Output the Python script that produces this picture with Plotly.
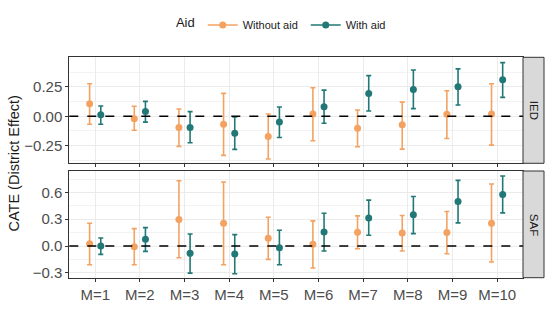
import plotly.graph_objects as go

categories = ["M=1", "M=2", "M=3", "M=4", "M=5", "M=6", "M=7", "M=8", "M=9", "M=10"]

# IED panel
ied_without = [0.107, -0.020, -0.096, -0.068, -0.172, 0.020, -0.102, -0.073, 0.017, 0.020]
ied_without_hi = [0.277, 0.085, 0.062, 0.195, 0.020, 0.243, 0.054, 0.121, 0.218, 0.277]
ied_without_lo = [-0.068, -0.119, -0.257, -0.333, -0.364, -0.209, -0.260, -0.280, -0.189, -0.246]
ied_with = [0.014, 0.040, -0.096, -0.144, -0.048, 0.082, 0.195, 0.229, 0.251, 0.311]
ied_with_hi = [0.088, 0.127, 0.040, -0.006, 0.079, 0.223, 0.347, 0.395, 0.404, 0.458]
ied_with_lo = [-0.068, -0.050, -0.226, -0.282, -0.181, -0.059, 0.045, 0.065, 0.096, 0.161]

# SAF panel
saf_without = [0.026, -0.008, 0.296, 0.255, 0.086, 0.019, 0.154, 0.146, 0.150, 0.255]
saf_without_hi = [0.255, 0.195, 0.731, 0.716, 0.322, 0.281, 0.337, 0.341, 0.386, 0.694]
saf_without_lo = [-0.210, -0.210, -0.131, -0.210, -0.150, -0.247, -0.030, -0.056, -0.086, -0.180]
saf_with = [0.000, 0.075, -0.082, -0.090, -0.019, 0.157, 0.315, 0.349, 0.499, 0.577]
saf_with_hi = [0.090, 0.206, 0.135, 0.127, 0.176, 0.367, 0.514, 0.555, 0.735, 0.784]
saf_with_lo = [-0.094, -0.060, -0.304, -0.311, -0.210, -0.056, 0.120, 0.139, 0.259, 0.371]

ied_ticks = [-0.25, 0.0, 0.25]
saf_ticks = [-0.3, 0.0, 0.3, 0.6]

ORANGE = "#F4A261"
TEAL = "#217876"
DODGE = 0.125
FONT = "Liberation Sans, Arial, sans-serif"

pos = list(range(1, len(categories) + 1))

fig = go.Figure()


def add_series(est, hi, lo, color, offset, xa, ya):
    fig.add_trace(go.Scatter(
        x=[p + offset for p in pos], y=est, mode="markers",
        marker=dict(color=color, size=7),
        error_y=dict(type="data", symmetric=False,
                     array=[h - e for h, e in zip(hi, est)],
                     arrayminus=[e - l for e, l in zip(est, lo)],
                     color=color, thickness=1.6, width=2.5),
        xaxis=xa, yaxis=ya, showlegend=False, hoverinfo="skip"))


add_series(ied_without, ied_without_hi, ied_without_lo, ORANGE, -DODGE, "x", "y")
add_series(ied_with, ied_with_hi, ied_with_lo, TEAL, DODGE, "x", "y")
add_series(saf_without, saf_without_hi, saf_without_lo, ORANGE, -DODGE, "x2", "y2")
add_series(saf_with, saf_with_hi, saf_with_lo, TEAL, DODGE, "x2", "y2")

# legend-only traces
for name, color in [("Without aid", ORANGE), ("With aid", TEAL)]:
    fig.add_trace(go.Scatter(x=[None], y=[None], mode="lines+markers", name=name,
                             line=dict(color=color, width=1.6),
                             marker=dict(color=color, size=7)))

XD = [69.3 / 553, 523 / 553]
TOP_D = [1 - 163.3 / 310, 1 - 57.3 / 310]
BOT_D = [1 - 277.7 / 310, 1 - 171 / 310]

grid = "#EBEBEB"
border = "#333333"
tickfont = dict(family=FONT, size=15, color="#4D4D4D")

common_x = dict(range=[0.42, 10.58], tickvals=pos, ticktext=categories, tickmode="array",
                showgrid=True, gridcolor=grid, gridwidth=1,
                showline=True, mirror=True, linecolor=border, linewidth=1,
                ticks="outside", ticklen=3, tickcolor=border, zeroline=False,
                domain=XD, tickfont=tickfont, automargin=False)

common_y = dict(showgrid=True, gridcolor=grid, zeroline=False, tickmode="array",
                showline=True, mirror=True, linecolor=border, linewidth=1,
                ticks="outside", ticklen=3, tickcolor=border, tickfont=tickfont,
                automargin=False)

fig.update_layout(
    width=553, height=310,
    margin=dict(l=0, r=0, t=0, b=0, autoexpand=False),
    paper_bgcolor="white", plot_bgcolor="white",
    font=dict(family=FONT, color="#1A1A1A"),
    xaxis=dict(common_x, anchor="y", showticklabels=False),
    xaxis2=dict(common_x, anchor="y2", matches="x"),
    yaxis=dict(common_y, domain=TOP_D, range=[-0.401, 0.503], tickvals=ied_ticks,
               tickformat=".2f", anchor="x",
               minor=dict(tickvals=[-0.375, -0.125, 0.125, 0.375], showgrid=True,
                          gridcolor="#F3F3F3", gridwidth=0.6, ticks="")),
    yaxis2=dict(common_y, domain=BOT_D, range=[-0.355, 0.84], tickvals=saf_ticks,
                tickformat=".1f", anchor="x2",
                minor=dict(tickvals=[-0.15, 0.15, 0.45, 0.75], showgrid=True,
                           gridcolor="#F3F3F3", gridwidth=0.6, ticks="")),
    legend=dict(orientation="h", x=0.527, xanchor="center", y=1 - 25 / 310, yanchor="middle",
                title=dict(text="Aid", font=dict(size=13, family=FONT, color="#1A1A1A")),
                font=dict(size=11, family=FONT, color="#1A1A1A"),
                itemwidth=30, entrywidth=58, entrywidthmode="pixels",
                bgcolor="rgba(0,0,0,0)"),
)

# zero dashed lines
for xa, ya in [("x", "y"), ("x2", "y2")]:
    fig.add_shape(type="line", xref=f"{xa} domain", yref=ya, x0=0, x1=1, y0=0, y1=0,
                  line=dict(color="black", width=1.5, dash="dash"), layer="above")

# strips
for d, label in [(TOP_D, "IED"), (BOT_D, "SAF")]:
    fig.add_shape(type="rect", xref="paper", yref="paper", x0=523 / 553, x1=544 / 553,
                  y0=d[0], y1=d[1], fillcolor="#D9D9D9", line=dict(color=border, width=1))
    fig.add_annotation(xref="paper", yref="paper", x=533.5 / 553, y=(d[0] + d[1]) / 2,
                       xanchor="center", yanchor="middle",
                       text=label, textangle=90, showarrow=False,
                       font=dict(size=11.5, family=FONT, color="#1A1A1A"))

# shared y title
fig.add_annotation(xref="paper", yref="paper", x=13.5 / 553, y=1 - 164 / 310,
                   xanchor="center", yanchor="middle",
                   text="CATE (District Effect)", textangle=-90, showarrow=False,
                   font=dict(size=14.5, family=FONT, color="#1A1A1A"))

fig.write_html("out.html", config={"displayModeBar": False},
               post_script="document.body.style.margin='0';document.body.style.overflow='hidden';")
